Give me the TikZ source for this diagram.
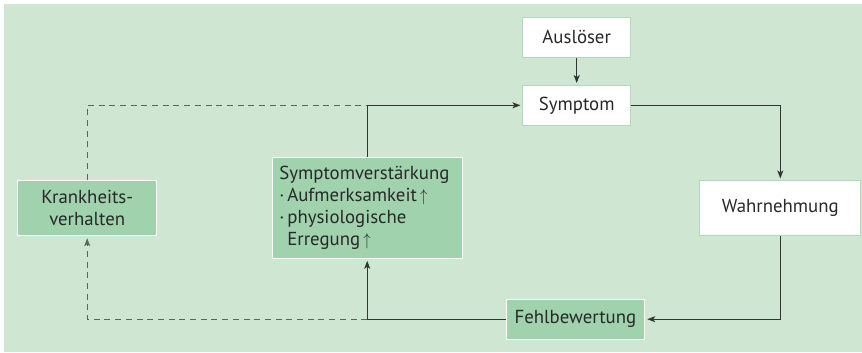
\documentclass[tikz,border=0pt]{standalone}
\usepackage{fontspec}
\setmainfont{PT Sans}
\usetikzlibrary{arrows.meta}
\definecolor{bg}{RGB}{207,230,211}
\definecolor{boxg}{RGB}{161,210,174}
\definecolor{edgeg}{RGB}{178,217,188}
\definecolor{ink}{RGB}{40,40,40}
\definecolor{lineink}{RGB}{50,54,50}
\definecolor{dashink}{RGB}{92,100,92}
\newcommand{\uparr}{\,\raisebox{0.5pt}{\scalebox{0.85}[1]{$\uparrow$}}}
\begin{document}
\begin{tikzpicture}[x=1pt,y=-1pt,
  box/.style={draw=edgeg,line width=1pt,fill=white,inner sep=0pt,align=center,
    font=\fontsize{18.8}{22}\selectfont,text=ink},
  gbox/.style={box,fill=boxg,draw=white},
  conn/.style={draw=lineink,line width=1.2pt},
  arr/.style={conn,-{Stealth[length=8pt,width=6pt,inset=2pt]},shorten >=2pt},
  dashline/.style={conn,draw=dashink,line width=1.3pt,dash pattern=on 6pt off 4.7pt}]
\useasboundingbox (0,0) rectangle (862,353);
\fill[white] (0,0) rectangle (862,353);
\fill[bg] (4,4) rectangle (862,352);

\node[box,minimum width=107.5pt,minimum height=40pt] (ausl) at (576.7,37.3) {Auslöser};
\node[box,minimum width=107.5pt,minimum height=39.5pt] (symp) at (576.7,105.3) {Symptom};
\node[box,minimum width=161pt,minimum height=54.7pt] (wahr) at (780.3,208.3) {Wahrnehmung};
\node[gbox,minimum width=138.7pt,minimum height=40.3pt] (fehl) at (575.4,319.2) {Fehlbewertung};
\node[gbox,minimum height=100.6pt,text width=175.7pt,inner xsep=7pt,align=left] (verst) at (367.2,208) {Symptomverstärkung\\
  \makebox[8pt][l]{·}Aufmerksamkeit\uparr\\
  \makebox[8pt][l]{·}physiologische\\
  \hspace*{8pt}Erregung\uparr};
\node[gbox,minimum width=139.2pt,minimum height=55.7pt] (krank) at (87.2,207.9) {Krankheits-\\verhalten};

\coordinate (j1) at (verst.south |- fehl.west);
\coordinate (j2) at (verst.north |- symp.west);

\draw[arr] (ausl) -- (symp);
\draw[arr] (symp.east) -| (wahr.north);
\draw[arr] (wahr.south) |- (fehl.east);
\draw[conn] (fehl.west) -- (j1);
\draw[arr] (j1) -- (verst.south);
\draw[dashline,-{Stealth[length=8pt,width=6pt,inset=2pt]},shorten >=2pt] (j1) -| (krank.south);
\draw[conn] (verst.north) -- (j2);
\draw[arr] (j2) -- (symp.west);
\draw[dashline] (krank.north) |- (j2);
\end{tikzpicture}
\end{document}
